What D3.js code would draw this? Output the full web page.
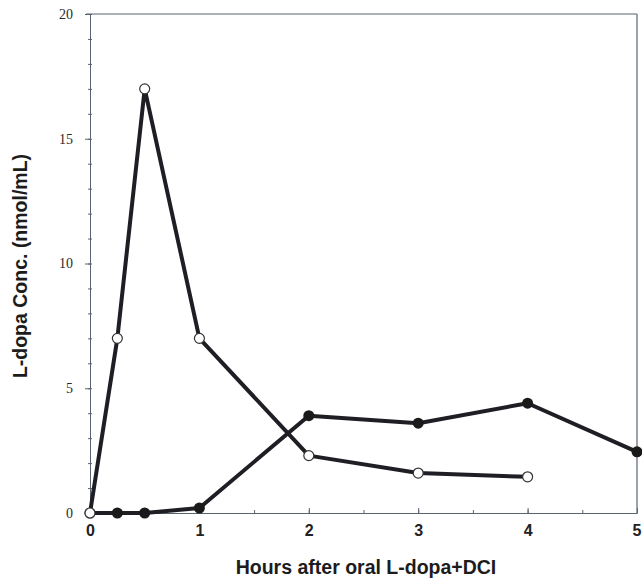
<!DOCTYPE html>
<html>
<head>
<meta charset="utf-8">
<script src="https://cdn.jsdelivr.net/npm/d3@7"></script>
<style>
  body { margin: 0; background: #fff; }
  svg { display: block; }
</style>
</head>
<body>
<svg id="chart" width="642" height="580"></svg>
<script>
// open circles
const hoursA = [0, 0.25, 0.5, 1, 2, 3, 4];
const concA = [0, 7, 17, 7, 2.3, 1.6, 1.45];
// filled circles
const hoursB = [0, 0.25, 0.5, 1, 2, 3, 4, 5];
const concB = [0, 0, 0, 0.2, 3.9, 3.6, 4.4, 2.45];

const xTicks = [0, 1, 2, 3, 4, 5];
const yTicks = [0, 5, 10, 15, 20];

const svg = d3.select('#chart');

const plotLeft = 90, plotRight = 637, plotTop = 14, plotBottom = 513;

const x = d3.scaleLinear().domain([0, 5]).range([plotLeft, plotRight]);
const y = d3.scaleLinear().domain([0, 20]).range([plotBottom, plotTop]);

const frameColor = '#5a6470';

// frame: top and right lines
svg.append('line')
    .attr('x1', plotLeft - 4).attr('x2', plotRight)
    .attr('y1', plotTop).attr('y2', plotTop)
    .style('stroke', frameColor).style('stroke-width', 1.2);
svg.append('line')
    .attr('x1', plotRight).attr('x2', plotRight)
    .attr('y1', plotTop).attr('y2', plotBottom)
    .style('stroke', frameColor).style('stroke-width', 1.2);

// y axis
let yAxis = svg.append('g')
    .attr('transform', 'translate(' + plotLeft + ',0)')
    .call(d3.axisLeft(y).tickValues(d3.range(0, 21, 1)).tickSize(3).tickFormat(''));
yAxis.selectAll('.tick line').attr('x2', 2).attr('x1', -2);
yAxis.selectAll('line, path').style('stroke', frameColor);

let yMajor = svg.append('g')
    .attr('transform', 'translate(' + plotLeft + ',0)')
    .call(d3.axisLeft(y).tickValues(yTicks).tickSize(5).tickPadding(12));
yMajor.select('.domain').remove();
yMajor.selectAll('line').style('stroke', frameColor);
yMajor.selectAll('text')
    .style('font-family', '"Liberation Serif", "Times New Roman", serif')
    .style('font-size', '14px')
    .style('fill', '#2a2a2a');

// x axis
let xAxis = svg.append('g')
    .attr('transform', 'translate(0,' + plotBottom + ')')
    .call(d3.axisBottom(x).tickValues(d3.range(0, 5.01, 0.5)).tickSize(-3).tickFormat(''));
xAxis.selectAll('line, path').style('stroke', frameColor);

let xMajor = svg.append('g')
    .attr('transform', 'translate(0,' + plotBottom + ')')
    .call(d3.axisBottom(x).tickValues(xTicks).tickSize(-5).tickPadding(12).tickFormat(d3.format('d')));
xMajor.select('.domain').remove();
xMajor.selectAll('line').style('stroke', frameColor);
xMajor.selectAll('text')
    .style('font-family', '"Liberation Sans", Arial, sans-serif')
    .style('font-weight', 'bold')
    .style('font-size', '16px')
    .style('fill', '#222')
    .attr('text-anchor', d => d == 5 ? 'end' : 'middle')
    .attr('dx', d => d == 5 ? 4 : 0);

// axis titles
svg.append('text')
    .attr('x', 366)
    .attr('y', 574)
    .attr('text-anchor', 'middle')
    .style('font-family', '"Liberation Sans", Arial, sans-serif')
    .style('font-weight', 'bold')
    .style('font-size', '19.5px')
    .style('fill', '#1c1c1c')
    .text('Hours after oral L-dopa+DCI');

svg.append('text')
    .attr('transform', 'translate(27,266) rotate(-90)')
    .attr('text-anchor', 'middle')
    .style('font-family', '"Liberation Sans", Arial, sans-serif')
    .style('font-weight', 'bold')
    .style('font-size', '19.5px')
    .style('fill', '#1c1c1c')
    .text('L-dopa Conc. (nmol/mL)');

// lines
const line = d3.line()
    .x(d => x(d[0]))
    .y(d => y(d[1]));

const dataA = hoursA.map((h, i) => [h, concA[i]]);
const dataB = hoursB.map((h, i) => [h, concB[i]]);

svg.selectAll('.seriesLine').data([dataB, dataA])
    .enter()
    .append('path')
    .attr('class', 'seriesLine')
    .attr('d', d => line(d))
    .attr('fill', 'none')
    .style('stroke', '#1e1e24')
    .style('stroke-width', 4)
    .style('stroke-linejoin', 'round');

// markers
svg.selectAll('.filledDot').data(dataB)
    .enter()
    .append('circle')
    .attr('class', 'filledDot')
    .attr('cx', d => x(d[0]))
    .attr('cy', d => y(d[1]))
    .attr('r', 5.5)
    .style('fill', '#1a1a1a');

svg.selectAll('.openDot').data(dataA)
    .enter()
    .append('circle')
    .attr('class', 'openDot')
    .attr('cx', d => x(d[0]))
    .attr('cy', d => y(d[1]))
    .attr('r', 5)
    .style('fill', '#fff')
    .style('stroke', '#333')
    .style('stroke-width', 1.2);
</script>
</body>
</html>
